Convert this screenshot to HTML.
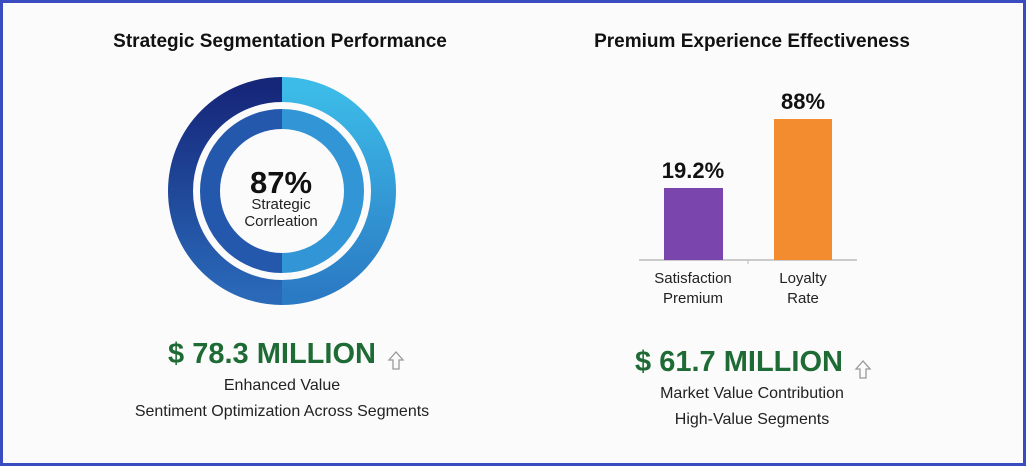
<!DOCTYPE html>
<html><head><style>
body{margin:0;width:1026px;height:466px;overflow:hidden;background:#fff;font-family:"Liberation Sans",sans-serif}
.frame{position:absolute;left:0;top:0;width:1020px;height:460px;border:3px solid #3a4cc0;background:#fbfbfb}
.t{position:absolute;text-align:center;white-space:nowrap;transform:translateX(-50%)}
</style></head><body>
<div class="frame"></div>
<svg width="1026" height="466" style="position:absolute;left:0;top:0">
<defs>
<linearGradient id="gl" x1="0" y1="0" x2="0" y2="1"><stop offset="0" stop-color="#16277a"/><stop offset="1" stop-color="#2a68b8"/></linearGradient>
<linearGradient id="gr" x1="0" y1="0" x2="0" y2="1"><stop offset="0" stop-color="#3cbbe8"/><stop offset="1" stop-color="#2b7bc4"/></linearGradient>
<clipPath id="cl"><rect x="0" y="0" width="282" height="466"/></clipPath>
<clipPath id="cr"><rect x="282" y="0" width="400" height="466"/></clipPath>
</defs>
<g clip-path="url(#cl)"><circle cx="282" cy="191" r="101.5" fill="none" stroke="url(#gl)" stroke-width="25"/><circle cx="282" cy="191" r="72" fill="none" stroke="#2458ad" stroke-width="20"/></g>
<g clip-path="url(#cr)"><circle cx="282" cy="191" r="101.5" fill="none" stroke="url(#gr)" stroke-width="25"/><circle cx="282" cy="191" r="72" fill="none" stroke="#3296d6" stroke-width="20"/></g>
<line x1="639" y1="260" x2="857" y2="260" stroke="#bbb" stroke-width="1.5"/>
<line x1="748" y1="260" x2="748" y2="264" stroke="#bbb"/>
<rect x="664" y="188" width="59" height="72" fill="#7a46ae"/>
<rect x="774" y="119" width="58" height="141" fill="#f28c2e"/>
<path d="M396 352 l-7 8 h4 v9 h6 v-9 h4 z" fill="none" stroke="#999" stroke-width="1.3"/>
<path d="M863 361 l-7 8 h4 v9 h6 v-9 h4 z" fill="none" stroke="#999" stroke-width="1.3"/>
</svg>
<div class="t" style="left:280px;top:31px;font-size:19px;font-weight:bold;color:#111">Strategic Segmentation Performance</div>
<div class="t" style="left:752px;top:31px;font-size:19px;font-weight:bold;color:#111">Premium Experience Effectiveness</div>
<div class="t" style="left:281px;top:165px;font-size:31px;font-weight:bold;color:#111">87%</div>
<div class="t" style="left:281px;top:196px;font-size:15px;line-height:17px;color:#222">Strategic<br>Corrleation</div>
<div class="t" style="left:693px;top:158px;font-size:22px;font-weight:bold;color:#111">19.2%</div>
<div class="t" style="left:803px;top:89px;font-size:22px;font-weight:bold;color:#111">88%</div>
<div class="t" style="left:693px;top:269px;font-size:15px;line-height:20px;color:#222">Satisfaction<br>Premium</div>
<div class="t" style="left:803px;top:269px;font-size:15px;line-height:20px;color:#222">Loyalty<br>Rate</div>
<div class="t" style="left:272px;top:338px;font-size:29px;font-weight:bold;color:#1e6b35">$ 78.3 MILLION</div>
<div class="t" style="left:282px;top:373px;font-size:16px;line-height:26px;color:#222">Enhanced Value<br>Sentiment Optimization Across Segments</div>
<div class="t" style="left:739px;top:346px;font-size:29px;font-weight:bold;color:#1e6b35">$ 61.7 MILLION</div>
<div class="t" style="left:752px;top:381px;font-size:16px;line-height:26px;color:#222">Market Value Contribution<br>High-Value Segments</div>
</body></html>
